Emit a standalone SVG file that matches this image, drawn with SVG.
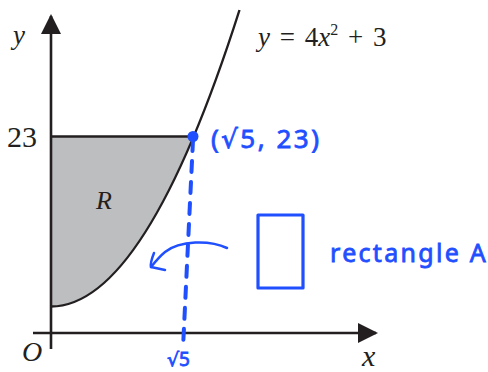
<svg xmlns="http://www.w3.org/2000/svg" width="488" height="372" viewBox="0 0 488 372">
  <style>
    .ax { stroke: #231f20; stroke-width: 2.6; fill: none; }
    .curve { stroke: #231f20; stroke-width: 2.4; fill: none; }
    .serif { font-family: "Liberation Serif", "Times New Roman", serif; fill: #231f20; }
    .it { font-style: italic; }
    .blue { stroke: #1f4fff; fill: none; stroke-linecap: round; stroke-linejoin: round; }
    .hand { font-family: "Noto Sans", "DejaVu Sans", sans-serif; fill: #1f4fff; stroke: #1f4fff; stroke-width: 0.8; }
  </style>
  <defs>
    <marker id="ah" viewBox="0 0 20 20" refX="18" refY="10" markerWidth="20" markerHeight="20" markerUnits="userSpaceOnUse" orient="auto">
      <path d="M0,0 L20,10 L0,20 Z" fill="#231f20"/>
    </marker>
  </defs>

  <g id="region">
    <path d="M51,136.5 L193,136.5 Q122,306.5 51,306.5 Z" fill="#bcbec0"/>
    <line x1="51" y1="136.5" x2="193" y2="136.5" class="ax"/>
  </g>

  <g id="axes">
    <line x1="51" y1="349" x2="51" y2="16" class="ax" marker-end="url(#ah)"/>
    <line x1="33" y1="333" x2="376" y2="333" class="ax" marker-end="url(#ah)"/>
  </g>

  <g id="curve">
    <path d="M51,306.5 Q145,306.5 239.5,10" class="curve"/>
  </g>

  <g id="labels">
    <text x="13" y="44" font-size="27" class="serif it">y</text>
    <text x="22" y="361" font-size="28" class="serif it">O</text>
    <text x="362" y="366" font-size="30" class="serif it">x</text>
    <text x="7" y="147" font-size="30" class="serif">23</text>
    <text x="96" y="209" font-size="26" class="serif it">R</text>
    <text x="258" y="46" font-size="27" class="serif" word-spacing="3"><tspan class="it">y</tspan> = 4<tspan class="it">x</tspan><tspan font-size="16" dy="-11">2</tspan><tspan dy="11"> + 3</tspan></text>
  </g>

  <g id="annotations">
    <line x1="193" y1="140" x2="183" y2="348" class="blue" stroke-width="4" stroke-dasharray="11 10"/>
    <circle cx="193" cy="136.5" r="5.5" fill="#1f4fff"/>
    <text x="211" y="148" font-size="26" class="hand" letter-spacing="2.5">(√5, 23)</text>
    <text x="167" y="366" font-size="19" class="hand">√5</text>
    <path d="M227,248 C210,240 180,240 165,252 C159,257 155,262 151,267" class="blue" stroke-width="2.5"/>
    <path d="M154,253 C152,258 150,263 151,267 L165,270" class="blue" stroke-width="2.5"/>
    <rect x="258" y="215" width="45" height="73" class="blue" stroke-width="3.2"/>
    <text x="330" y="262" font-size="25" class="hand" letter-spacing="2.3">rectangle A</text>
  </g>
</svg>
